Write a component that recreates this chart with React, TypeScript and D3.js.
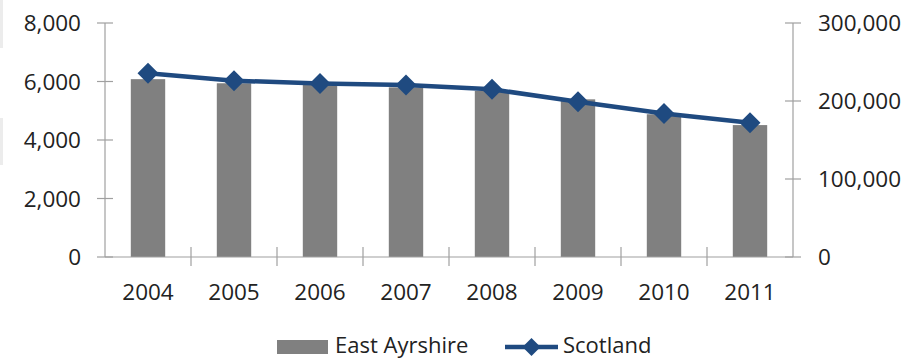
import React from "react";
import * as d3 from "d3";

const years = ["2004", "2005", "2006", "2007", "2008", "2009", "2010", "2011"];
const eastAyrshire = [6080, 5940, 5880, 5800, 5680, 5390, 4880, 4510];
const scotland = [235500, 226000, 222500, 220500, 215000, 199000, 184000, 172000];
const leftTicks = [0, 2000, 4000, 6000, 8000];
const rightTicks = [0, 100000, 200000, 300000];

const W = 922;
const H = 360;
const plotLeft = 105;
const plotRight = 793;
const plotTop = 23;
const plotBottom = 257;
const font = "'Open Sans', sans-serif";
const fs = 22.5;
const legendFs = 22;
const textColor = "#222";
const axisColor = "#a0a0a0";
const barColor = "#808080";
const lineColor = "#1f4a80";

export default function App() {
  const x = d3.scaleBand<string>().domain(years).range([plotLeft, plotRight]).padding(0);
  const yL = d3.scaleLinear().domain([0, 8000]).range([plotBottom, plotTop]);
  const yR = d3.scaleLinear().domain([0, 300000]).range([plotBottom, plotTop]);
  const fmt = d3.format(",");
  const bw = x.bandwidth();
  const barW = bw * 0.4;
  const line = d3
    .line<number>()
    .x((_, i) => (x(years[i]) as number) + bw / 2)
    .y((d) => yR(d));
  const diamond = (cx: number, cy: number, r: number) =>
    `M${cx},${cy - r} L${cx + r},${cy} L${cx},${cy + r} L${cx - r},${cy} Z`;

  return (
    <svg width={W} height={H} style={{ display: "block", position: "absolute", left: 0, top: 0 }}>
      <rect x={0} y={0} width={W} height={H} fill="#fff" />
      <rect x={0} y={0} width={3} height={48} fill="#ececec" />
      <rect x={0} y={118} width={3} height={47} fill="#ececec" />
      {/* bars */}
      {eastAyrshire.map((v, i) => (
        <rect
          key={years[i]}
          x={(x(years[i]) as number) + bw / 2 - barW / 2}
          y={yL(v)}
          width={barW}
          height={plotBottom - yL(v)}
          fill={barColor}
        />
      ))}
      {/* left axis */}
      <line x1={plotLeft} x2={plotLeft} y1={plotTop} y2={plotBottom} stroke={axisColor} strokeWidth={1.2} />
      {leftTicks.map((t) => (
        <g key={t}>
          <line x1={plotLeft - 8} x2={plotLeft + 8} y1={yL(t)} y2={yL(t)} stroke={axisColor} strokeWidth={1.2} />
          <text x={81} y={yL(t)} dy="0.36em" textAnchor="end" fontFamily={font} fontSize={fs} fill={textColor}>
            {fmt(t)}
          </text>
        </g>
      ))}
      {/* right axis */}
      <line x1={plotRight} x2={plotRight} y1={plotTop} y2={plotBottom} stroke={axisColor} strokeWidth={1.2} />
      {rightTicks.map((t) => (
        <g key={t}>
          <line x1={plotRight - 8} x2={plotRight + 8} y1={yR(t)} y2={yR(t)} stroke={axisColor} strokeWidth={1.2} />
          <text x={818} y={yR(t)} dy="0.36em" textAnchor="start" fontFamily={font} fontSize={fs} fill={textColor}>
            {fmt(t)}
          </text>
        </g>
      ))}
      {/* x axis */}
      <line x1={plotLeft} x2={plotRight} y1={plotBottom} y2={plotBottom} stroke={axisColor} strokeWidth={1.2} />
      {years.map((y, i) => (
        <g key={y}>
          {i > 0 && (
            <line
              x1={x(y) as number}
              x2={x(y) as number}
              y1={plotBottom - 10}
              y2={plotBottom + 9}
              stroke={axisColor}
              strokeWidth={1.2}
            />
          )}
          <text
            x={(x(y) as number) + bw / 2}
            y={300}
            textAnchor="middle"
            fontFamily={font}
            fontSize={fs}
            fill={textColor}
          >
            {y}
          </text>
        </g>
      ))}
      {/* Scotland line */}
      <path d={line(scotland) || ""} fill="none" stroke={lineColor} strokeWidth={4.5} strokeLinejoin="round" />
      {scotland.map((v, i) => (
        <path key={i} d={diamond((x(years[i]) as number) + bw / 2, yR(v), 10.5)} fill={lineColor} />
      ))}
      {/* legend */}
      <rect x={277} y={340} width={51} height={14} fill={barColor} />
      <text x={335} y={353} fontFamily={font} fontSize={legendFs} fill={textColor}>
        East Ayrshire
      </text>
      <line x1={505} x2={558} y1={347} y2={347} stroke={lineColor} strokeWidth={4.5} />
      <path d={diamond(531.5, 347, 9)} fill={lineColor} />
      <text x={563} y={353} fontFamily={font} fontSize={legendFs} fill={textColor}>
        Scotland
      </text>
    </svg>
  );
}
